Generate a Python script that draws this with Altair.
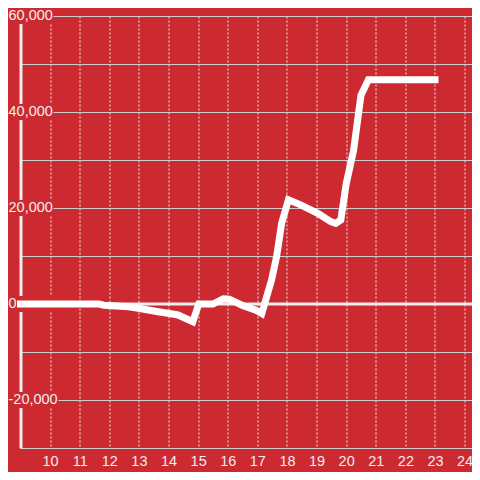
import altair as alt
import pandas as pd

# ---- data ----
x_vals = [9.0, 11.5, 11.65, 11.82, 12.65, 12.98, 13.65, 13.98, 14.32, 14.82,
          15.02, 15.5, 15.85, 16.05, 16.5, 16.95, 17.15, 17.48, 17.65, 17.82,
          18.05, 18.48, 19.04, 19.48, 19.65, 19.82, 20.0, 20.25, 20.5, 20.75, 23.0]
y_vals = [0, 0, 0, -250, -560, -900, -1600, -1940, -2290, -3700,
          0, 0, 1100, 1000, -300, -1300, -2000, 5000, 9850, 16800,
          21700, 20600, 18900, 17150, 16800, 17500, 25000, 32000, 43500, 46700, 46700]

y_label_values = [-20000, 0, 20000, 40000, 60000]
y_label_texts = ["-20,000", "0", "20,000", "40,000", "60,000"]
y_grid_values = [-30000, -20000, -10000, 0, 10000, 20000, 30000, 40000, 50000, 60000]
x_tick_values = [10, 11, 12, 13, 14, 15, 16, 17, 18, 19, 20, 21, 22, 23, 24]

BG = "#cc2a30"
FONT = "Liberation Sans"

line_df = pd.DataFrame({"x": x_vals, "y": y_vals})
lab_df = pd.DataFrame({"y": y_label_values, "label": y_label_texts})
zero_df = pd.DataFrame({"y": [0]})

x_scale = alt.Scale(domain=[9, 24.25], nice=False, zero=False)
y_scale = alt.Scale(domain=[-30000, 60000], nice=False, zero=False)

x_axis = alt.Axis(values=x_tick_values, grid=True, gridDash=[2, 2], gridColor="#ececec",
                  gridWidth=1, ticks=False, tickSize=0, domain=False, labelFont=FONT,
                  labelFontSize=14.5, labelColor="#eeeeee", labelPadding=6, title=None,
                  labelFlush=False)
y_axis = alt.Axis(values=y_grid_values, grid=True, gridColor="#cfcfcf", gridWidth=1,
                  ticks=False, labels=False, domain=True, domainColor="#eeeeee",
                  domainWidth=3, title=None)

Y = alt.Y("y:Q", scale=y_scale, axis=y_axis)

zero_rule = alt.Chart(zero_df).mark_rule(color="#eeeeee", strokeWidth=3).encode(y=Y)

bg_rects = alt.Chart(lab_df).mark_rect(color=BG, yOffset=-8, y2Offset=8).encode(
    x=alt.value(-12.5), x2=alt.value(33), y=Y, y2="y:Q"
)
bg_rects_neg = alt.Chart(lab_df).transform_filter("datum.y < 0").mark_rect(
    color=BG, yOffset=-8, y2Offset=8).encode(
    x=alt.value(-12.5), x2=alt.value(38), y=Y, y2="y:Q"
)

labels = alt.Chart(lab_df).mark_text(align="left", baseline="middle", fontSize=14.5,
                                     font=FONT, color="#eeeeee").encode(
    x=alt.value(-12), y=Y, text="label:N"
)

line = alt.Chart(line_df).mark_line(color="#ffffff", strokeWidth=7, strokeCap="square",
                                    strokeJoin="miter").encode(
    x=alt.X("x:Q", scale=x_scale, axis=x_axis),
    y=Y,
)

chart = alt.layer(zero_rule, bg_rects, bg_rects_neg, labels, line).properties(
    width=451.5, height=432,
    autosize=alt.AutoSizeParams(type="none"),
    padding={"left": 12.5, "top": 8, "right": 0, "bottom": 24},
    background=BG,
).configure_view(stroke=None)

chart.save("out.html", embed_options={"renderer": "svg", "actions": False})
